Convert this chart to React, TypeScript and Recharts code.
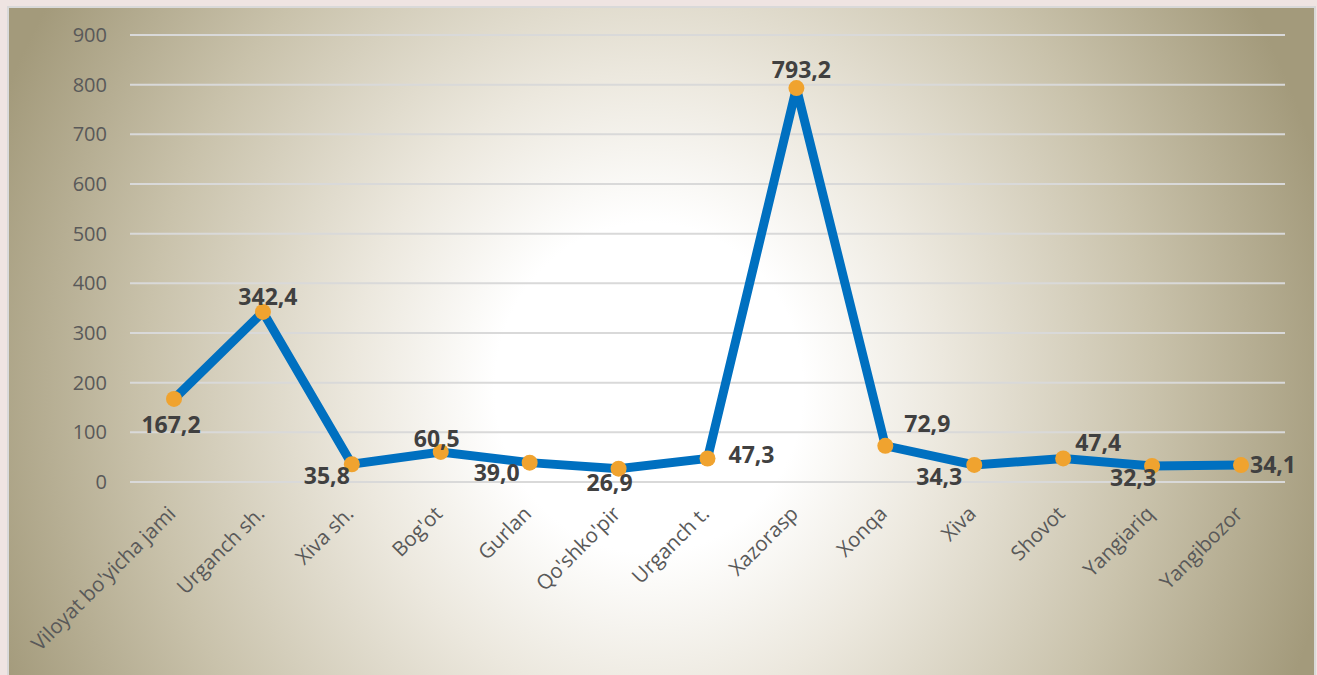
import { LineChart, Line, XAxis, YAxis, CartesianGrid, LabelList } from "recharts";

const CATEGORIES = [
  "Viloyat bo'yicha jami",
  "Urganch sh.",
  "Xiva sh.",
  "Bog'ot",
  "Gurlan",
  "Qo'shko'pir",
  "Urganch t.",
  "Xazorasp",
  "Xonqa",
  "Xiva",
  "Shovot",
  "Yangiariq",
  "Yangibozor",
];

const VALUES = [167.2, 342.4, 35.8, 60.5, 39.0, 26.9, 47.3, 793.2, 72.9, 34.3, 47.4, 32.3, 34.1];

const Y_TICKS = [0, 100, 200, 300, 400, 500, 600, 700, 800, 900];

// where each value label sits relative to its point (dx, dy), as in the original
const LABEL_OFFSETS: [number, number][] = [
  [-3, 25], [5, -16], [-25, 11], [-4, -14], [-33, 9], [-9, 13], [44, -5],
  [5, -19], [42, -23], [-35, 11], [35, -16], [-19, 11], [32, -1],
];

const data = CATEGORIES.map((name, i) => ({ name, value: VALUES[i] }));

const FONT = "'Open Sans', sans-serif";

function XTick(props: any) {
  const { x, y, payload } = props;
  const ax = x + 3;
  const ay = y + 25;
  return (
    <text
      x={ax}
      y={ay}
      transform={`rotate(-45 ${ax} ${ay})`}
      textAnchor="end"
      fill="#595959"
      fontSize={20.5}
      fontFamily={FONT}
    >
      {payload.value}
    </text>
  );
}

function ValueLabel(props: any) {
  const { x, y, value, index } = props;
  const [dx, dy] = LABEL_OFFSETS[index] ?? [0, -15];
  return (
    <text
      x={x + dx}
      y={y + dy}
      textAnchor="middle"
      dominantBaseline="central"
      fill="#404040"
      fontSize={23}
      fontWeight={700}
      fontFamily={FONT}
    >
      {Number(value).toFixed(1).replace(".", ",")}
    </text>
  );
}

export default function App() {
  return (
    <div
      style={{
        position: "absolute",
        left: 0,
        top: 0,
        width: 1317,
        height: 675,
        background: "#efe4e2",
        overflow: "hidden",
      }}
    >
      <div
        style={{
          position: "absolute",
          left: 7,
          top: 6,
          width: 1305,
          height: 680,
          border: "2px solid #d9d9d9",
          background:
            "radial-gradient(ellipse 700px 750px at 640px 380px, #ffffff 0%, #ffffff 22%, #ece8de 42%, #c9c2ab 72%, #a39a7b 100%)",
        }}
      />
      <div style={{ position: "absolute", left: 0, top: 0 }}>
        <LineChart
          width={1317}
          height={675}
          data={data}
          margin={{ top: 35, right: 32, bottom: 43, left: 70 }}
        >
          <CartesianGrid vertical={false} stroke="#d9d9d9" strokeWidth={2} />
          <XAxis
            dataKey="name"
            scale="point"
            padding={{ left: 44, right: 44 }}
            axisLine={false}
            tickLine={false}
            height={150}
            interval={0}
            tick={<XTick />}
          />
          <YAxis
            domain={[0, 900]}
            ticks={Y_TICKS}
            axisLine={false}
            tickLine={false}
            width={60}
            tickMargin={17}
            tick={{ fill: "#595959", fontSize: 20, fontFamily: FONT }}
          />
          <Line
            type="linear"
            dataKey="value"
            stroke="#0070c0"
            strokeWidth={9}
            dot={{ r: 8, fill: "#f0a32f", stroke: "none" }}
            activeDot={false}
            isAnimationActive={false}
          >
            <LabelList dataKey="value" content={<ValueLabel />} />
          </Line>
        </LineChart>
      </div>
    </div>
  );
}
